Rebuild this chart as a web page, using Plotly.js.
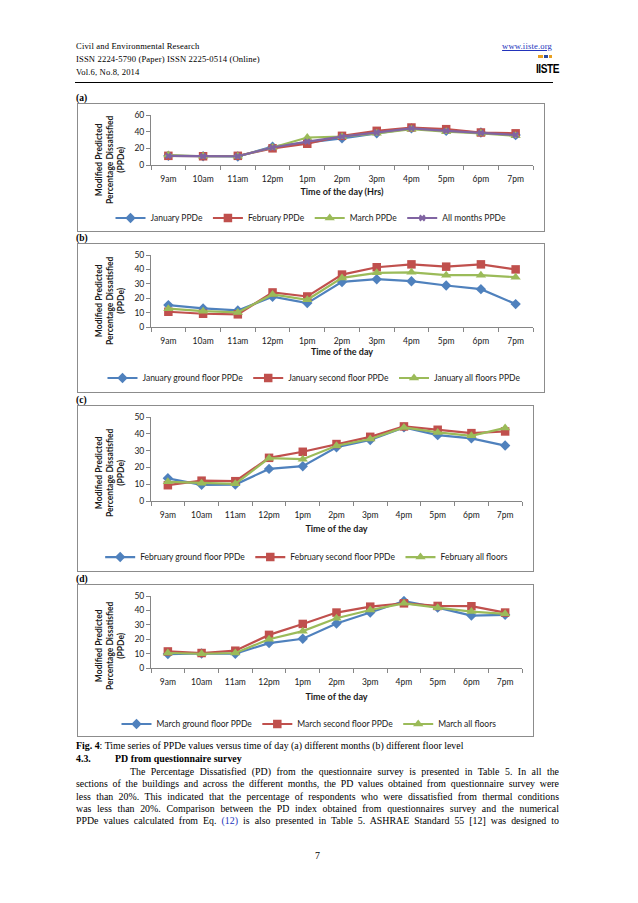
<!DOCTYPE html>
<html>
<head>
<meta charset="utf-8">
<script src="https://cdn.plot.ly/plotly-3.0.1.min.js"></script>
<style>
html,body{margin:0;padding:0;background:#fff;}
#page{position:relative;width:638px;height:903px;overflow:hidden;background:#fff;font-family:"Liberation Serif","Times New Roman",serif;color:#000;}
.t{position:absolute;white-space:nowrap;line-height:1;}
.hd{font-size:8.6px;letter-spacing:0.15px;}
.lbl{font-size:9.5px;font-weight:bold;}
.box{position:absolute;border:1px solid #8c8c8c;box-sizing:border-box;background:#fff;}
.jl{position:absolute;left:76px;width:483px;font-size:9.9px;line-height:1;white-space:nowrap;text-align:justify;text-align-last:justify;}
</style>
</head>
<body>
<div id="page">
  <div class="t hd" style="left:76px;top:41.5px;">Civil and Environmental Research</div>
  <div class="t hd" style="left:76px;top:54.5px;">ISSN 2224-5790 (Paper) ISSN 2225-0514 (Online)</div>
  <div class="t hd" style="left:76px;top:67.5px;">Vol.6, No.8, 2014</div>
  <div class="t hd" style="right:86px;top:41.5px;color:#2233bb;text-decoration:underline;">www.iiste.org</div>
  <div style="position:absolute;left:538px;top:55px;width:5px;height:3px;background:#e8a020;"></div>
  <div style="position:absolute;left:544px;top:55px;width:4px;height:3px;background:#2a4aa0;"></div>
  <div style="position:absolute;left:549px;top:55px;width:3px;height:3px;background:#e8a020;"></div>
  <div class="t" style="left:536px;top:62px;font-family:'Liberation Sans',sans-serif;font-weight:bold;font-size:13px;letter-spacing:-0.6px;transform:scaleX(0.78);transform-origin:left top;">IISTE</div>
  <div style="position:absolute;left:75px;top:82px;width:478px;height:1px;background:#000;"></div>

  <div class="t lbl" style="left:76px;top:93.5px;">(a)</div>
  <div class="box" style="left:77px;top:103px;width:468px;height:129px;"><div id="chartA"></div></div>

  <div class="t lbl" style="left:76px;top:233.5px;">(b)</div>
  <div class="box" style="left:77px;top:243px;width:468px;height:150px;"><div id="chartB"></div></div>

  <div class="t lbl" style="left:76px;top:395.5px;">(c)</div>
  <div class="box" style="left:77px;top:405px;width:457px;height:167px;"><div id="chartC"></div></div>

  <div class="t lbl" style="left:76px;top:574.5px;">(d)</div>
  <div class="box" style="left:77px;top:584px;width:457px;height:153px;"><div id="chartD"></div></div>

  <div class="t" style="left:76px;top:741px;font-size:9.9px;"><b>Fig. 4</b>: Time series of PPDe values versus time of day (a) different months (b) different floor level</div>
  <div class="t" style="left:76px;top:754px;font-size:9.9px;font-weight:bold;">4.3.</div>
  <div class="t" style="left:115px;top:754px;font-size:9.9px;font-weight:bold;">PD from questionnaire survey</div>
  <div class="jl" style="top:767px;left:130px;width:429px;">The Percentage Dissatisfied (PD) from the questionnaire survey is presented in Table 5. In all the</div>
  <div class="jl" style="top:779.3px;">sections of the buildings and across the different months, the PD values obtained from questionnaire survey were</div>
  <div class="jl" style="top:791.6px;">less than 20%. This indicated that the percentage of respondents who were dissatisfied from thermal conditions</div>
  <div class="jl" style="top:803.9px;">was less than 20%. Comparison between the PD index obtained from questionnaires survey and the numerical</div>
  <div class="jl" style="top:816.2px;">PPDe values calculated from Eq. <span style="color:#2233bb;">(12)</span> is also presented in Table 5. ASHRAE Standard 55 [12] was designed to</div>
  <div class="t" style="left:315px;top:851px;font-size:9.9px;">7</div>
</div>

<script>
// ---- data ----
const hours = ['9am','10am','11am','12pm','1pm','2pm','3pm','4pm','5pm','6pm','7pm'];

const aJanuary  = [11, 10.5, 10.2, 22, 27, 32, 38, 44, 41, 39, 36];
const aFebruary = [11, 10.5, 11, 20, 25.5, 35, 41, 45, 43, 39, 38];
const aMarch    = [12, 10.5, 10.5, 21, 33, 34, 38, 43, 40, 38, 35];
const aAll      = [11, 10.5, 10.5, 21, 28, 34, 39, 44, 41, 38.5, 36];

const bGround = [15.2, 12.9, 11.5, 21, 16.6, 31.3, 33.2, 31.8, 28.8, 26.3, 15.9];
const bSecond = [10.6, 9.2, 8.8, 24, 21.2, 36.4, 41.5, 43.5, 41.9, 43.5, 40];
const bAll    = [12.7, 11, 10.1, 22.6, 18.9, 34.1, 37.6, 38, 36, 36, 34.6];

const cGround = [13.5, 9.6, 9.8, 19.1, 20.7, 32, 36.3, 43.8, 39.2, 37.3, 33];
const cSecond = [9.4, 12.1, 11.8, 25.7, 29.3, 33.9, 38.2, 44.4, 42.4, 40.4, 41.4];
const cAll    = [11.4, 10.6, 10.2, 25.5, 24.9, 32.9, 36.9, 43.8, 40.8, 38.8, 43.5];

const dGround = [9.7, 10.1, 9.9, 17.3, 20.3, 30.9, 38.5, 46.5, 41.9, 36.4, 36.9];
const dSecond = [11.5, 10.4, 12, 23, 30.6, 38.5, 42.6, 44.9, 43.1, 42.9, 38.5];
const dAll    = [10.4, 9.9, 10.4, 20, 25.6, 34.6, 40.3, 44.9, 41.9, 39.2, 37.6];

const namesA = ['January PPDe', 'February PPDe', 'March PPDe', 'All months PPDe'];
const namesB = ['January ground floor PPDe', 'January second floor PPDe', 'January all floors PPDe'];
const namesC = ['February ground floor PPDe', 'February second floor PPDe', 'February all floors'];
const namesD = ['March ground floor PPDe', 'March second floor PPDe', 'March all floors'];

const yTitle = 'Modified Predicted<br>Percentage Dissatisfied<br>(PPDe)';

// ---- styles ----
const BLUE = '#4F81BD', RED = '#C0504D', GREEN = '#9BBB59', PURPLE = '#8064A2';
const STY = [
  {color: BLUE, symbol: 'diamond', size: 8},
  {color: RED, symbol: 'square', size: 8.5},
  {color: GREEN, symbol: 'triangle-up', size: 9},
  {color: PURPLE, symbol: 'x', size: 6}
];
const FONT = 'Lato, "Open Sans", "DejaVu Sans", sans-serif';
const TXT = '#1a1a1a';

function traces(names, series) {
  return series.map((y, i) => ({
    type: 'scatter', mode: 'lines+markers', x: hours, y: y, name: names[i],
    line: {color: STY[i].color, width: 2.2},
    marker: {color: STY[i].color, symbol: STY[i].symbol, size: STY[i].size, line: {width: 0}}
  }));
}

function chart(id, data, cfg) {
  const axisCommon = {
    ticks: 'outside', ticklen: 4, tickcolor: '#868686', tickwidth: 1,
    showline: true, linecolor: '#868686', linewidth: 1,
    showgrid: false, zeroline: false, fixedrange: true,
    tickfont: {family: FONT, size: 8.5, color: TXT}
  };
  const layout = {
    width: cfg.w, height: cfg.h,
    margin: {l: 73, r: 11, t: 11, b: cfg.b, pad: 0, autoexpand: false},
    paper_bgcolor: '#fff', plot_bgcolor: '#fff',
    font: {family: FONT, size: 8.5, color: TXT},
    showlegend: true,
    legend: {
      orientation: 'h', xref: 'paper', yref: 'paper',
      x: cfg.lx, xanchor: 'left', y: cfg.ly, yanchor: 'middle',
      font: {family: FONT, size: 8.5, color: TXT},
      itemwidth: 30, bgcolor: 'rgba(0,0,0,0)', traceorder: 'normal'
    },
    xaxis: Object.assign({}, axisCommon, {
      type: 'category', range: [-0.5, 10.5], tickson: 'boundaries', ticklabelstandoff: 6,
      title: {text: cfg.xt, font: {family: FONT, size: 9, weight: 'bold', color: TXT}, standoff: cfg.xs}
    }),
    yaxis: Object.assign({}, axisCommon, {
      range: [0, cfg.ymax], dtick: cfg.dtick
    }),
    annotations: [{
      text: yTitle, textangle: -90, showarrow: false,
      xref: 'paper', yref: 'paper', x: 0, y: 0.5, xanchor: 'center', yanchor: 'middle',
      xshift: -41, yshift: cfg.ts,
      font: {family: FONT, size: 8.5, weight: 'bold', color: TXT}
    }]
  };
  Plotly.newPlot(id, data, layout, {staticPlot: true, displayModeBar: false});
}

chart('chartA', traces(namesA, [aJanuary, aFebruary, aMarch, aAll]),
  {w: 466, h: 127, b: 66, lx: -0.106, ly: -1.06, ts: -20, xs: 5, ymax: 60, dtick: 20, xt: 'Time of the day (Hrs)'});
chart('chartB', traces(namesB, [bGround, bSecond, bAll]),
  {w: 466, h: 148, b: 65, lx: -0.127, ly: -0.708, ts: -10, xs: 3, ymax: 50, dtick: 10, xt: 'Time of the day'});
chart('chartC', traces(namesC, [cGround, cSecond, cAll]),
  {w: 455, h: 165, b: 70, lx: -0.137, ly: -0.667, ts: -14, xs: 6, ymax: 50, dtick: 10, xt: 'Time of the day'});
chart('chartD', traces(namesD, [dGround, dSecond, dAll]),
  {w: 455, h: 151, b: 68, lx: -0.093, ly: -0.778, ts: -14, xs: 7, ymax: 50, dtick: 10, xt: 'Time of the day'});
</script>
</body>
</html>
